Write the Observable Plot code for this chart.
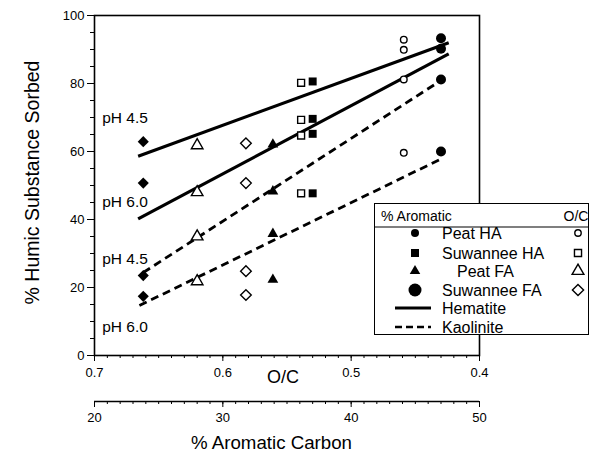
<!DOCTYPE html>
<html><head><meta charset="utf-8">
<script src="https://cdn.jsdelivr.net/npm/d3@7"></script>
<script src="https://cdn.jsdelivr.net/npm/@observablehq/plot@0.6"></script>
<style>
body{margin:0;background:#fff;}
#wrap{position:relative;width:589px;height:452px;font-family:"Liberation Sans",Arial,Helvetica,sans-serif;background:#fff;}
#legend{position:absolute;left:374px;top:203px;width:215px;height:132px;box-sizing:border-box;border:1.5px solid #000;background:#fff;}
#legend svg{position:absolute;left:-1.5px;top:-1.5px;overflow:visible;}
</style></head><body><div id="wrap"></div>
<script>
// ---- data ----
const ocTicks = [0.7, 0.6, 0.5, 0.4];
const aromaticTicks = [20, 30, 40, 50];
const yTicks = [0, 20, 40, 60, 80, 100];

const substances = ["Peat HA", "Suwannee HA", "Peat FA", "Suwannee FA"];
// O/C ratio of each substance (open symbols)
const ocValues = [0.459, 0.539, 0.620, 0.582];
// % aromatic carbon of each substance (filled symbols)
const aromaticValues = [47.0, 37.0, 33.9, 23.8];
// % sorbed: hematite pH 4.5, hematite pH 6.0, kaolinite pH 4.5, kaolinite pH 6.0
const sorbedVsOC = [
  [92.9, 89.9, 81.2, 59.6],
  [80.2, 69.3, 64.7, 47.7],
  [61.8, 48.0, 35.0, 21.8],
  [62.4, 50.7, 24.8, 17.8]
];
const sorbedVsAromatic = [
  [93.3, 90.2, 81.2, 60.0],
  [80.6, 69.6, 65.2, 47.7],
  [62.1, 48.3, 35.8, 22.3],
  [62.9, 50.7, 23.5, 17.4]
];
// fitted lines (in % aromatic carbon)
const lineSorbent = ["Hematite", "Hematite", "Kaolinite", "Kaolinite"];
const lineAromStart = [23.4, 23.4, 23.8, 23.5];
const lineAromEnd = [47.6, 47.6, 47.0, 47.0];
const lineYStart = [58.6, 40.2, 24.4, 14.7];
const lineYEnd = [92.0, 88.7, 80.9, 57.8];
// pH annotations
const phLabels = ["pH 4.5", "pH 6.0", "pH 4.5", "pH 6.0"];
const phLabelAromatic = [20.6, 20.6, 20.6, 20.6];
const phLabelY = [69.7, 45.0, 28.5, 8.5];

// ---- build ----
const aromToOC = a => 0.7 - (a - 20) / 100;
const ocToArom = x => Math.round(20 + (0.7 - x) * 100);

const symbolOf = {"Peat HA": "circle", "Suwannee HA": "square", "Peat FA": "triangle", "Suwannee FA": "diamond2"};
const rFilled = {"Peat HA": 5, "Suwannee HA": 4.5, "Peat FA": 4.0, "Suwannee FA": 5};
const rOpen = {"Peat HA": 3.3, "Suwannee HA": 3.9, "Peat FA": 4.3, "Suwannee FA": 4.8};

const openRows = substances.flatMap((s, i) => sorbedVsOC[i].map(v => ({s, x: ocValues[i], y: v})));
const filledRows = substances.flatMap((s, i) => sorbedVsAromatic[i].map(v => ({s, x: aromToOC(aromaticValues[i]), y: v})));
const lines = lineSorbent.map((k, i) => ({k, x1: aromToOC(lineAromStart[i]), x2: aromToOC(lineAromEnd[i]), y1: lineYStart[i], y2: lineYEnd[i]}));
const phRows = phLabels.map((t, i) => ({t, x: aromToOC(phLabelAromatic[i]), y: phLabelY[i]}));

const dotMarks = [];
for (const s of substances) {
  dotMarks.push(Plot.dot(filledRows.filter(d => d.s === s), {x: "x", y: "y", symbol: symbolOf[s], r: rFilled[s], fill: "black", stroke: "none"}));
  dotMarks.push(Plot.dot(openRows.filter(d => d.s === s), {x: "x", y: "y", symbol: symbolOf[s], r: rOpen[s], fill: "white", stroke: "black", strokeWidth: 1.4}));
}

const chart = Plot.plot({
  width: 589, height: 452,
  marginLeft: 94, marginRight: 110, marginTop: 15, marginBottom: 97,
  style: {fontFamily: '"Liberation Sans", Arial, Helvetica, sans-serif', fontSize: "13px", color: "black", background: "white"},
  x: {domain: [0.7, 0.4]},
  y: {domain: [0, 100]},
  marks: [
    Plot.axisY({ticks: d3.range(0, 101, 5), tickSize: 4, tickFormat: () => "", label: null}),
    Plot.axisY({ticks: yTicks, tickSize: 7, tickPadding: 3, fontSize: 13, label: null}),
    Plot.axisX({ticks: d3.range(40, 71).map(d => d / 100), tickSize: 3, tickFormat: () => "", label: null}),
    Plot.axisX({ticks: ocTicks, tickSize: 6, tickPadding: 6, fontSize: 13, tickFormat: d3.format(".1f"), label: null}),
    Plot.ruleY([0], {dy: 46, strokeWidth: 1.6}),
    Plot.axisX({ticks: d3.range(20, 51).map(aromToOC), tickSize: 3, tickFormat: () => "", label: null, dy: 46}),
    Plot.axisX({ticks: aromaticTicks.map(aromToOC), tickSize: 6, tickPadding: 5, fontSize: 13, tickFormat: ocToArom, label: null, dy: 46}),
    Plot.frame({strokeWidth: 1.6}),
    Plot.link(lines.filter(d => d.k === "Hematite"), {x1: "x1", y1: "y1", x2: "x2", y2: "y2", stroke: "black", strokeWidth: 3.2}),
    Plot.link(lines.filter(d => d.k === "Kaolinite"), {x1: "x1", y1: "y1", x2: "x2", y2: "y2", stroke: "black", strokeWidth: 2.8, strokeDasharray: "8,5"}),
    ...dotMarks,
    Plot.text(phRows, {x: "x", y: "y", text: "t", textAnchor: "start", fontSize: 15.5}),
    Plot.text(["% Humic Substance Sorbed"], {text: d => d, frameAnchor: "left", textAnchor: "middle", lineAnchor: "middle", rotate: -90, dx: -61.5, dy: -3, fontSize: 19.5}),
    Plot.text(["O/C"], {text: d => d, frameAnchor: "bottom", textAnchor: "middle", lineAnchor: "middle", dx: -4, dy: 22, fontSize: 18}),
    Plot.text(["% Aromatic Carbon"], {text: d => d, frameAnchor: "bottom", textAnchor: "middle", lineAnchor: "middle", dx: -15.5, dy: 88, fontSize: 18.7})
  ]
});

const wrap = document.getElementById("wrap");
wrap.appendChild(chart);

// ---- legend ----
const legendRows = ["Peat HA", "Suwannee HA", "Peat FA", "Suwannee FA"];
const legendLines = ["Hematite", "Kaolinite"];
const legend = document.createElement("div");
legend.id = "legend";
wrap.appendChild(legend);
const svg = d3.select(legend).append("svg").attr("width", 215).attr("height", 132)
  .style("font-family", '"Liberation Sans", Arial, Helvetica, sans-serif').style("font-size", "16px");
svg.append("text").attr("x", 7).attr("y", 13).attr("dy", "0.35em").style("font-size", "14px").text("% Aromatic");
svg.append("text").attr("x", 202).attr("y", 13).attr("dy", "0.35em").attr("text-anchor", "middle").style("font-size", "14px").text("O/C");
svg.append("line").attr("x1", 0).attr("x2", 215).attr("y1", 24).attr("y2", 24).attr("stroke", "black").attr("stroke-width", 1.2);
const rowY = [30, 50, 68, 87];
const legFilledSize = [Math.PI * 4 * 4, 64, 48, Math.PI * 6.5 * 6.5];
const legFilledType = [d3.symbolCircle, d3.symbolSquare, d3.symbolTriangle, d3.symbolCircle];
const legOpenSize = [Math.PI * 3.2 * 3.2, 50, 60, 80];
const legOpenType = [d3.symbolCircle, d3.symbolSquare, d3.symbolTriangle, d3.symbolDiamond2];
legendRows.forEach((name, i) => {
  svg.append("path").attr("transform", `translate(41,${rowY[i]})`).attr("d", d3.symbol(legFilledType[i], legFilledSize[i])()).attr("fill", "black");
  svg.append("text").attr("x", i === 2 ? 83 : 68).attr("y", rowY[i]).attr("dy", "0.35em").text(name);
  svg.append("path").attr("transform", `translate(204,${rowY[i]})`).attr("d", d3.symbol(legOpenType[i], legOpenSize[i])()).attr("fill", "white").attr("stroke", "black").attr("stroke-width", 1.4);
});
const lineY = [105, 124];
legendLines.forEach((name, i) => {
  svg.append("line").attr("x1", 21).attr("x2", 57).attr("y1", lineY[i]).attr("y2", lineY[i]).attr("stroke", "black")
    .attr("stroke-width", i === 0 ? 3 : 2.6).attr("stroke-dasharray", i === 0 ? null : "7,4");
  svg.append("text").attr("x", 68).attr("y", lineY[i]).attr("dy", "0.35em").text(name);
});
</script></body></html>
